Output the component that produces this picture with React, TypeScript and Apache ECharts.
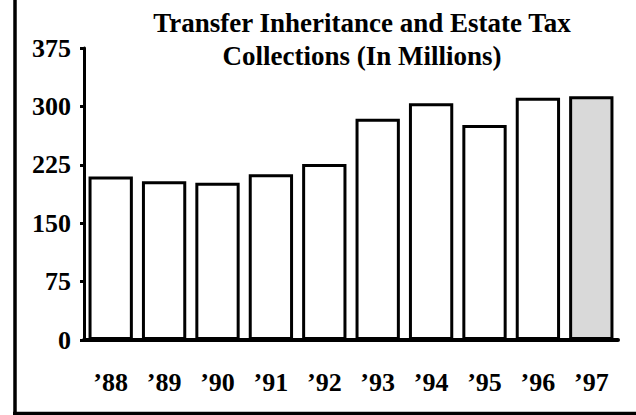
import React, { useEffect, useRef } from "react";
import * as echarts from "echarts";

const titleLines = ["Transfer Inheritance and Estate Tax", "Collections (In Millions)"];
const categories = ["’88", "’89", "’90", "’91", "’92", "’93", "’94", "’95", "’96", "’97"];
const values = [210, 204, 202, 213, 226, 284, 304, 276, 311, 313];
const highlightIndex = 9;
const yTicks = [0, 75, 150, 225, 300, 375];

const FONT = "'Liberation Serif', 'Times New Roman', serif";

export default function App() {
  const ref = useRef<HTMLDivElement>(null);
  useEffect(() => {
    document.body.style.margin = "0";
    const chart = echarts.init(ref.current!, null, { renderer: "svg" });
    chart.setOption({
      animation: false,
      backgroundColor: "#ffffff",
      title: {
        text: titleLines.join("\n"),
        left: 357,
        top: 1,
        textAlign: "center",
        textStyle: {
          fontFamily: FONT,
          fontWeight: "bold",
          fontSize: 27,
          lineHeight: 33,
          color: "#000",
        },
      },
      grid: { left: 84, right: 18, top: 48, bottom: 75, containLabel: false },
      xAxis: {
        type: "category",
        data: categories,
        axisLine: { lineStyle: { color: "#000", width: 4 } },
        axisTick: { show: false },
        axisLabel: {
          fontFamily: FONT,
          fontWeight: "bold",
          fontSize: 26,
          color: "#000",
          margin: 29,
        },
      },
      yAxis: {
        type: "value",
        min: yTicks[0],
        max: yTicks[yTicks.length - 1],
        interval: 75,
        splitLine: { show: false },
        axisLine: { show: true, lineStyle: { color: "#000", width: 3 } },
        axisTick: { show: true, length: 4, lineStyle: { color: "#000", width: 3 } },
        axisLabel: {
          fontFamily: FONT,
          fontWeight: "bold",
          fontSize: 26,
          color: "#000",
          margin: 13,
        },
      },
      series: [
        {
          type: "bar",
          data: values.map((v, i) => ({
            value: v,
            itemStyle: { color: i === highlightIndex ? "#d9d9d9" : "#ffffff" },
          })),
          barCategoryGap: "17%",
          itemStyle: { borderColor: "#000", borderWidth: 3 },
        },
      ],
      graphic: [
        {
          type: "line",
          shape: { x1: 15, y1: 0, x2: 15, y2: 415 },
          style: { stroke: "#000", lineWidth: 3.5 },
        },
        {
          type: "line",
          shape: { x1: 13, y1: 413.5, x2: 636, y2: 413.5 },
          style: { stroke: "#000", lineWidth: 3.5 },
        },
      ],
    });
    return () => chart.dispose();
  }, []);
  return <div ref={ref} style={{ width: 636, height: 415 }} />;
}
